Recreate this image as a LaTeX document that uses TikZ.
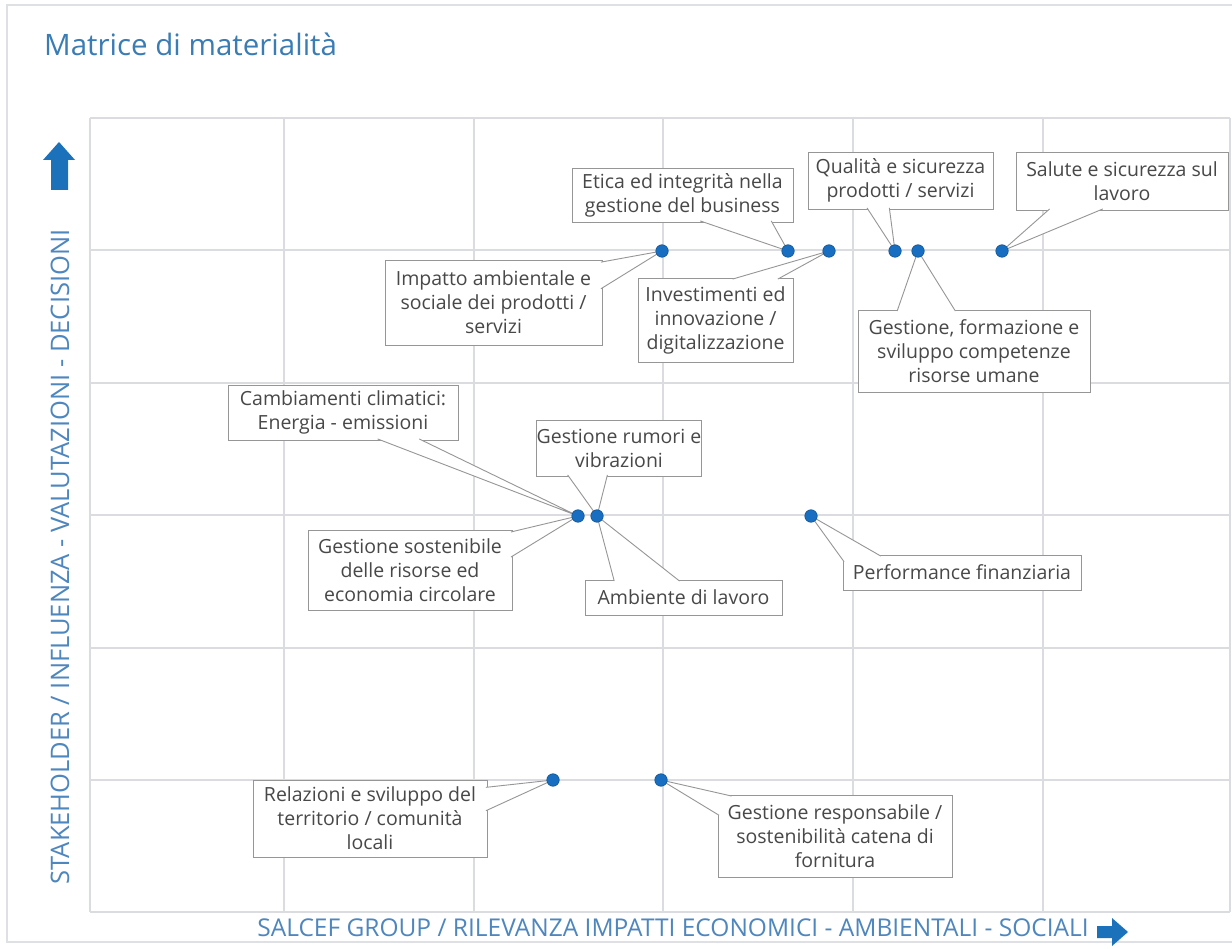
\documentclass[tikz,border=0pt]{standalone}
\usepackage{fontspec}
\setmainfont{Open Sans}
\usetikzlibrary{calc}

\definecolor{titleblue}{RGB}{58,124,180}
\definecolor{axisblue}{RGB}{78,134,190}
\definecolor{dotblue}{RGB}{24,110,192}
\definecolor{arrowblue}{RGB}{28,114,186}
\definecolor{gridgrey}{RGB}{218,220,224}
\definecolor{framegrey}{RGB}{222,224,228}
\definecolor{boxgrey}{RGB}{150,150,150}
\definecolor{textgrey}{RGB}{72,72,72}

\begin{document}
\begin{tikzpicture}[x=1pt, y=-1pt,
        grid_line/.style={draw=gridgrey, line width=1.4pt},
        topic_box/.style={rectangle, draw=boxgrey, fill=white, line width=0.9pt, align=center, text=textgrey, inner sep=0pt, font=\fontsize{19.5}{24}\selectfont},
        topic_dot/.style={circle, fill=dotblue, draw=dotblue!75!black, line width=0.6pt, inner sep=0pt, minimum size=12.5pt},
        pointer_wedge/.style={draw=boxgrey, fill=white, line width=0.9pt, line join=round},
        axis_label/.style={text=axisblue, inner sep=0pt},
        ]
            \useasboundingbox (0,0) rectangle (1232,949);
            \fill[white] (0,0) rectangle (1232,949);

            % frame and grid
            \draw[draw=framegrey, line width=1.4pt] (1232,5) -- (7,5) -- (7,942) -- (1232,942);
            \foreach \gx in {90,284,474,663,853,1043,1230}
                \draw[grid_line] (\gx,118) -- (\gx,912);
            \foreach \gy in {118,250,383,515,648,780,912}
                \draw[grid_line] (90,\gy) -- (1230,\gy);

            % title and axes
            \node[text=titleblue, font=\fontsize{29.5}{34}\selectfont, anchor=base west, inner sep=0pt] (title) at (44,56) {Matrice di materialità};
            \node[axis_label, font=\fontsize{24.5}{28}\selectfont] (x_label) at (673,928) {SALCEF GROUP / RILEVANZA IMPATTI ECONOMICI - AMBIENTALI - SOCIALI};
            \node[axis_label, font=\fontsize{25.5}{28}\selectfont, rotate=90] (y_label) at (60,557) {STAKEHOLDER / INFLUENZA - VALUTAZIONI - DECISIONI};
            \fill[arrowblue] (51,190) -- (51,160) -- (43,160) -- (59,142) -- (75,160) -- (68,160) -- (68,190) -- cycle;
            \fill[arrowblue] (1097,926) -- (1112,926) -- (1112,918) -- (1128,932) -- (1112,946) -- (1112,938) -- (1097,938) -- cycle;

            % topic positions
            \coordinate (c_impatto)      at (662,251);
            \coordinate (c_etica)        at (788,251);
            \coordinate (c_investimenti) at (829,251);
            \coordinate (c_qualita)      at (895,251);
            \coordinate (c_formazione)   at (918,251);
            \coordinate (c_salute)       at (1002,251);
            \coordinate (c_cambiamenti)  at (578,516);
            \coordinate (c_rumori)       at (597,516);
            \coordinate (c_performance)  at (811,516);
            \coordinate (c_relazioni)    at (553,780);
            \coordinate (c_responsabile) at (661,780);

            % boxes
            \node[topic_box, minimum width=221pt, minimum height=54pt] (etica)        at (682.5,195)  {Etica ed integrità nella\\gestione del business};
            \node[topic_box, minimum width=185pt, minimum height=57pt] (qualita)      at (900.5,180.5) {Qualità e sicurezza\\prodotti / servizi};
            \node[topic_box, minimum width=212pt, minimum height=58pt] (salute)       at (1122,181)   {Salute e sicurezza sul\\lavoro};
            \node[topic_box, minimum width=217pt, minimum height=85pt] (impatto)      at (493.5,302.5) {Impatto ambientale e\\sociale dei prodotti /\\servizi};
            \node[topic_box, minimum width=155pt, minimum height=84pt] (investimenti) at (715.5,320)  {Investimenti ed\\innovazione /\\digitalizzazione};
            \node[topic_box, minimum width=232pt, minimum height=82pt] (formazione)   at (974,351)    {Gestione, formazione e\\sviluppo competenze\\risorse umane};
            \node[topic_box, minimum width=230pt, minimum height=55pt] (cambiamenti)  at (343,412.5)  {Cambiamenti climatici:\\Energia - emissioni};
            \node[topic_box, minimum width=162pt, minimum height=56pt] (rumori)       at (619,448)    {Gestione rumori e\\vibrazioni};
            \node[topic_box, minimum width=204pt, minimum height=80pt] (sostenibile)  at (410,570)    {Gestione sostenibile\\delle risorse ed\\economia circolare};
            \node[topic_box, minimum width=197pt, minimum height=35pt] (ambiente)     at (683.5,597.5) {Ambiente di lavoro};
            \node[topic_box, minimum width=238pt, minimum height=35pt] (performance)  at (962,572.5)  {Performance finanziaria};
            \node[topic_box, minimum width=234pt, minimum height=77pt] (relazioni)    at (370,818.5)  {Relazioni e sviluppo del\\territorio / comunità\\locali};
            \node[topic_box, minimum width=234pt, minimum height=82pt] (responsabile) at (835,836)    {Gestione responsabile /\\sostenibilità catena di\\fornitura};

            % pointers
            \filldraw[pointer_wedge] ($(etica.south west)!.58!(etica.south east)+(0,1.5pt)$) -- (c_etica) -- ($(etica.south west)!.90!(etica.south east)+(0,1.5pt)$);
            \filldraw[pointer_wedge] ($(qualita.south west)!.32!(qualita.south east)+(0,1.5pt)$) -- (c_qualita) -- ($(qualita.south west)!.44!(qualita.south east)+(0,1.5pt)$);
            \filldraw[pointer_wedge] ($(salute.south west)!.16!(salute.south east)+(0,1.5pt)$) -- (c_salute) -- ($(salute.south west)!.41!(salute.south east)+(0,1.5pt)$);
            \filldraw[pointer_wedge] ($(impatto.north east)!.03!(impatto.south east)+(-1.5pt,0)$) -- (c_impatto) -- ($(impatto.north east)!.34!(impatto.south east)+(-1.5pt,0)$);
            \filldraw[pointer_wedge] ($(investimenti.north west)!.61!(investimenti.north east)+(0,-1.5pt)$) -- (c_investimenti) -- ($(investimenti.north west)!.90!(investimenti.north east)+(0,-1.5pt)$);
            \filldraw[pointer_wedge] ($(formazione.north west)!.17!(formazione.north east)+(0,-1.5pt)$) -- (c_formazione) -- ($(formazione.north west)!.42!(formazione.north east)+(0,-1.5pt)$);
            \filldraw[pointer_wedge] ($(cambiamenti.south west)!.65!(cambiamenti.south east)+(0,1.5pt)$) -- (c_cambiamenti) -- ($(cambiamenti.south west)!.83!(cambiamenti.south east)+(0,1.5pt)$);
            \filldraw[pointer_wedge] ($(rumori.south west)!.19!(rumori.south east)+(0,1.5pt)$) -- (c_rumori) -- ($(rumori.south west)!.43!(rumori.south east)+(0,1.5pt)$);
            \filldraw[pointer_wedge] ($(sostenibile.north east)!.03!(sostenibile.south east)+(-1.5pt,0)$) -- (c_cambiamenti) -- ($(sostenibile.north east)!.34!(sostenibile.south east)+(-1.5pt,0)$);
            \filldraw[pointer_wedge] ($(ambiente.north west)!.15!(ambiente.north east)+(0,-1.5pt)$) -- (c_rumori) -- ($(ambiente.north west)!.48!(ambiente.north east)+(0,-1.5pt)$);
            \filldraw[pointer_wedge] ($(performance.north west)!.20!(performance.south west)+(1.5pt,0)$) -- (c_performance) -- ($(performance.north west)!.16!(performance.north east)+(0,-1.5pt)$);
            \filldraw[pointer_wedge] ($(relazioni.north east)!.10!(relazioni.south east)+(-1.5pt,0)$) -- (c_relazioni) -- ($(relazioni.north east)!.40!(relazioni.south east)+(-1.5pt,0)$);
            \filldraw[pointer_wedge] ($(responsabile.north west)!.06!(responsabile.north east)+(0,-1.5pt)$) -- (c_responsabile) -- ($(responsabile.north west)!.25!(responsabile.south west)+(1.5pt,0)$);

            % topics
            \node[topic_dot] (d_impatto)      at (c_impatto)      {};
            \node[topic_dot] (d_etica)        at (c_etica)        {};
            \node[topic_dot] (d_investimenti) at (c_investimenti) {};
            \node[topic_dot] (d_qualita)      at (c_qualita)      {};
            \node[topic_dot] (d_formazione)   at (c_formazione)   {};
            \node[topic_dot] (d_salute)       at (c_salute)       {};
            \node[topic_dot] (d_cambiamenti)  at (c_cambiamenti)  {};
            \node[topic_dot] (d_rumori)       at (c_rumori)       {};
            \node[topic_dot] (d_performance)  at (c_performance)  {};
            \node[topic_dot] (d_relazioni)    at (c_relazioni)    {};
            \node[topic_dot] (d_responsabile) at (c_responsabile) {};

\end{tikzpicture}
\end{document}
